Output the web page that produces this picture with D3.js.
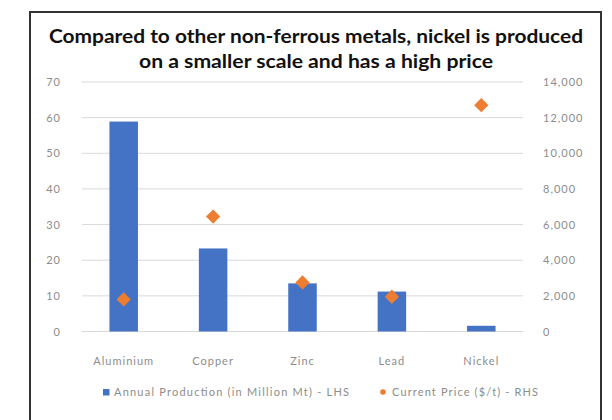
<!DOCTYPE html>
<html><head><meta charset="utf-8">
<script src="https://cdn.jsdelivr.net/npm/d3@7"></script>
<style>body{margin:0;background:#fff}svg{display:block}</style>
</head><body>
<svg id="c" width="612" height="420"></svg>
<script>
const categories = ["Aluminium","Copper","Zinc","Lead","Nickel"];
const production = [58.9, 23.3, 13.5, 11.2, 1.6];
const price = [1800, 6450, 2750, 1950, 12700];
const leftTicks = [0,10,20,30,40,50,60,70];
const rightTicks = [0,2000,4000,6000,8000,10000,12000,14000];
const titleLines = ["Compared to other non-ferrous metals, nickel is produced","on a smaller scale and has a high price"];
const legendLabels = ["Annual Production (in Million Mt) - LHS","Current Price ($/t) - RHS"];

const svg = d3.select("#c");
const font = "Lato, 'Liberation Sans', sans-serif";
svg.append("rect").attr("x",0).attr("y",0).attr("width",612).attr("height",420).attr("fill","#fff");
svg.append("rect").attr("x",30).attr("y",12).attr("width",571).attr("height",420)
  .attr("fill","#fff").attr("stroke","#333").attr("stroke-width",2);

const x = d3.scaleBand().domain(categories).range([79,526]);
const yL = d3.scaleLinear().domain([0,70]).range([331.5,82]);
const yR = d3.scaleLinear().domain([0,14000]).range([331.5,82]);

// grid
svg.append("g").selectAll("line").data(leftTicks).join("line")
  .attr("x1",82).attr("x2",523).attr("y1",d=>yL(d)).attr("y2",d=>yL(d))
  .attr("stroke","#d9d9d9").attr("stroke-width",1);

const tickStyle = sel => sel.attr("fill","#8c8c8c").style("font-family",font)
  .style("font-size","11px").style("letter-spacing","1px");

// left axis
const gl = svg.append("g").attr("transform","translate(61,0)")
  .call(d3.axisLeft(yL).tickValues(leftTicks).tickSize(0).tickPadding(0));
gl.select(".domain").remove();
tickStyle(gl.selectAll("text"));

const gr = svg.append("g").attr("transform","translate(543,0)")
  .call(d3.axisRight(yR).tickValues(rightTicks).tickSize(0).tickPadding(0).tickFormat(d3.format(",")));
gr.select(".domain").remove();
tickStyle(gr.selectAll("text"));

// bars
const bw = 28.5;
svg.append("g").selectAll("rect").data(categories).join("rect")
  .attr("x",(d)=>x(d)+x.bandwidth()/2-bw/2).attr("width",bw)
  .attr("y",(d,i)=>yL(production[i])).attr("height",(d,i)=>yL(0)-yL(production[i]))
  .attr("fill","#4472C4");

// diamonds
svg.append("g").selectAll("path").data(categories).join("path")
  .attr("d",d3.symbol(d3.symbolDiamond2,130)())
  .attr("transform",(d,i)=>`translate(${x(d)+x.bandwidth()/2},${yR(price[i])})`)
  .attr("fill","#ED7D31");

// x axis labels
const gx = svg.append("g").attr("transform","translate(0,357)")
  .call(d3.axisBottom(x).tickSize(0).tickPadding(0));
gx.select(".domain").remove();
tickStyle(gx.selectAll("text"));

// title
const tl = [534, 354];
svg.append("g").selectAll("text").data(titleLines).join("text")
  .attr("x",316).attr("y",(d,i)=>43+i*25).attr("text-anchor","middle")
  .attr("textLength",(d,i)=>tl[i]).attr("lengthAdjust","spacingAndGlyphs")
  .style("font-family",font).style("font-weight","bold").style("font-size","18.5px").attr("fill","#111")
  .text(d=>d);

// legend
svg.append("rect").attr("x",103).attr("y",389).attr("width",6.5).attr("height",6.5).attr("fill","#4472C4");
svg.append("text").attr("x",114).attr("y",396).text(legendLabels[0]).attr("textLength",235)
  .attr("fill","#8c8c8c").style("font-family",font).style("font-size","11px");
svg.append("circle").attr("cx",383).attr("cy",392).attr("r",2.8).attr("fill","#ED7D31");
svg.append("text").attr("x",392).attr("y",396).text(legendLabels[1]).attr("textLength",146)
  .attr("fill","#8c8c8c").style("font-family",font).style("font-size","11px");
</script>
</body></html>
